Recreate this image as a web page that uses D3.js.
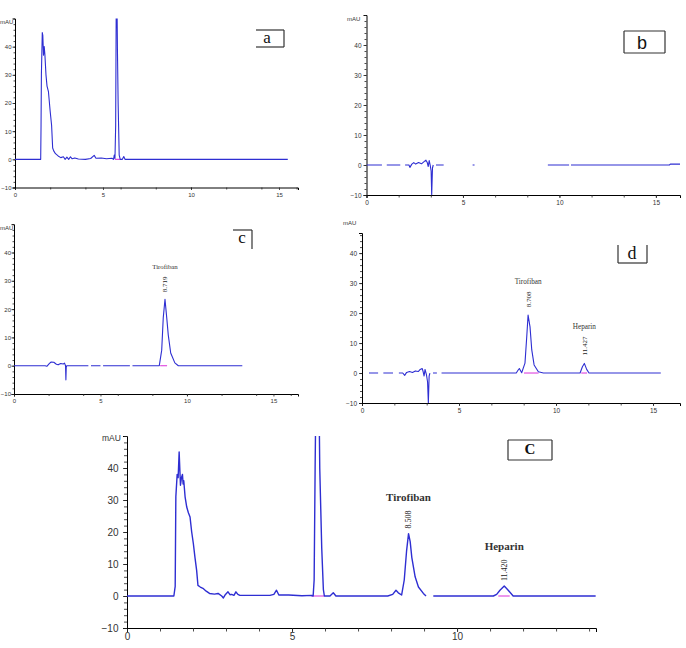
<!DOCTYPE html>
<html>
<head>
<meta charset="utf-8">
<script src="https://cdn.jsdelivr.net/npm/d3@7"></script>
<style>
  html, body { margin: 0; padding: 0; background: #fff; }
  svg { display: block; }
</style>
</head>
<body>
<svg id="chart" width="686" height="648"></svg>
<script>
// ---------------- DATA (time in min, signal in mAU; null = gap in trace) ----------------
const aTrace = [[0,0],[1.46,0],[1.48,12],[1.50,30],[1.55,45],[1.58,44],[1.62,37],[1.66,40],[1.70,37],[1.76,30],[1.82,26],[1.9,24],[2.0,17],[2.08,12],[2.14,4],[2.2,3],[2.3,2],[2.45,1.2],[2.6,0.6],[2.75,0.9],[2.85,0],[2.95,0.8],[3.05,0],[3.15,0.9],[3.25,0.2],[3.4,0.5],[3.6,0.1],[4.0,0],[4.3,0.3],[4.5,1.4],[4.6,0.4],[4.9,0.5],[5.2,0.2],[5.5,0.4],[5.6,0],[5.64,1.5],[5.68,0.3],[5.72,12],[5.75,53],[5.80,53],[5.82,39],[5.86,20],[5.92,1.5],[5.98,0],[6.1,0],[6.18,1],[6.25,0],[15.5,0]];
const bTrace = [[0,0],[0.8,0],[0.9,null],[1.05,0],[1.75,0],[1.85,null],[2.0,0],[2.2,0],[2.25,-0.8],[2.35,0.3],[2.45,0.8],[2.55,0.3],[2.7,0.8],[2.85,0.4],[3.0,1.2],[3.08,1.6],[3.15,0.8],[3.2,-0.5],[3.25,1.5],[3.3,0],[3.35,-2],[3.38,-10],[3.42,-1],[3.46,0],[3.5,null],[3.6,0],[4.0,0],[4.1,null],[5.5,0],[5.6,0],[5.7,null],[9.4,0],[10.5,0],[10.55,null],[10.6,0],[15.7,0],[15.75,0.3],[16.25,0.3]];
const cTrace = [[0,0],[1.8,0],[1.9,-0.2],[2.05,0.8],[2.15,1.3],[2.3,1.2],[2.45,0.5],[2.55,0.3],[2.7,0.8],[2.85,0.6],[2.92,0.9],[2.98,0],[3.0,-5],[3.02,-0.5],[3.05,0],[4.3,0],[4.35,null],[4.45,0],[5.0,0],[5.05,null],[5.15,0],[6.7,0],[6.75,null],[6.85,0],[8.4,0],[8.54,5.5],[8.63,17],[8.73,23.5],[8.83,17],[8.92,10.8],[9.06,4.5],[9.3,1],[9.5,0],[13.2,0]];
const dTrace = [[0.36,0],[0.83,0],[0.9,null],[1.1,0],[1.6,0],[1.7,null],[1.9,0],[2.1,0],[2.2,-0.8],[2.3,0.2],[2.45,0.5],[2.6,0.2],[2.75,0.7],[2.9,0.5],[3.0,1.2],[3.1,1.5],[3.15,0.5],[3.2,-1],[3.25,1.2],[3.32,-0.5],[3.38,-3],[3.42,-10],[3.46,-1],[3.5,0],[3.55,null],[3.66,0],[3.86,0],[3.9,null],[4.1,0],[7.95,0],[8.05,1],[8.11,1.5],[8.23,0.1],[8.4,3.3],[8.49,12],[8.56,19.3],[8.66,15.4],[8.75,7.7],[8.87,2.7],[9.09,0.4],[9.35,0],[11.24,0],[11.36,2.1],[11.46,3.2],[11.58,1.2],[11.7,0],[15.4,0]];
const eTrace = [[0,0],[1.42,0],[1.46,3],[1.48,31],[1.52,38],[1.55,37],[1.58,45],[1.62,34.6],[1.65,37],[1.68,38],[1.70,35],[1.72,36],[1.76,31],[1.81,27.8],[1.86,26],[1.91,24.7],[1.96,20],[2.01,16.4],[2.06,12],[2.11,8],[2.15,3.3],[2.22,2.8],[2.3,2.4],[2.4,1.5],[2.5,0.8],[2.65,0.6],[2.76,0.8],[2.87,0],[2.92,-0.6],[2.97,0.3],[3.06,1.3],[3.12,0.4],[3.17,0.5],[3.24,0.2],[3.3,1.3],[3.36,0.5],[3.42,0.2],[3.7,0.2],[4.33,0.2],[4.45,0.5],[4.53,1.8],[4.6,0.3],[4.9,0.3],[5.3,0.1],[5.6,0.2],[5.64,0],[5.67,5],[5.70,40],[5.72,60],[5.82,60],[5.84,40],[5.9,15],[5.95,2],[5.98,0],[6.15,0],[6.25,1],[6.33,0],[7.9,0],[8.05,0.5],[8.15,1.8],[8.22,1],[8.32,0.3],[8.4,5],[8.47,14],[8.53,19.5],[8.58,17],[8.63,12],[8.73,6],[8.83,2.8],[8.98,0.8],[9.06,0],[9.08,null],[9.28,0],[11.1,0],[11.2,0.5],[11.3,1.8],[11.43,3.1],[11.55,1.8],[11.7,0],[14.2,0]];

// integration baselines (start, end)
const aMarks = [[5.68, 5.98]];
const bMarks = [];
const cMarks = [[8.45, 8.85]];
const dMarks = [[8.35, 9.1], [11.3, 11.6]];
const eMarks = [[5.58, 5.98], [11.25, 11.6]];

// peak annotations
const cPeakNames = ["Tirofiban"], cPeakTimes = ["8.719"], cPeakRT = [8.73], cPeakH = [23.5];
const dPeakNames = ["Tirofiban", "Heparin"], dPeakTimes = ["8.708", "11.427"], dPeakRT = [8.56, 11.46], dPeakH = [19.3, 3.2];
const ePeakNames = ["Tirofiban", "Heparin"], ePeakTimes = ["8.508", "11.420"], ePeakRT = [8.53, 11.43], ePeakH = [19.5, 3.1];

// axis ticks
const xMajorTicks = [0, 5, 10, 15];
const eXMajorTicks = [0, 5, 10];
const yMajorTicks = [-10, 0, 10, 20, 30, 40];
const yUnit = "mAU";
const panelLetters = ["a", "b", "c", "d", "C"];

// ---------------- DRAWING ----------------
const svg = d3.select("#chart");
const traceColor = "#2e2ed2";
const markColor = "#e050e0";

const panels = [
  { trace: aTrace, marks: aMarks, xr: [15, 298], xMax: 16.08, yr: [187.5, 18.5], yMax: 50,
    xMinorStep: 2, xMajor: xMajorTicks, font: 6, xPad: 3, yPad: 1, tick: 2.5, unitPos: [0, 24], unitFont: 6,
    lw: 1.1, letter: panelLetters[0], box: { x: 256, y: 30, w: 28, h: 17, sides: "trb" }, letterPos: [267, 43], letterFont: 17, letterFam: "Liberation Serif" },
  { trace: bTrace, marks: bMarks, xr: [366.5, 680], xMax: 16.25, yr: [195, 15], yMax: 50,
    xMinorStep: 5/3, xMajor: xMajorTicks, font: 6.5, xPad: 2, yPad: 2, tick: 3, unitPos: [347, 21], unitFont: 6,
    lw: 1.1, letter: panelLetters[1], box: { x: 624, y: 31, w: 41, h: 22, sides: "ltrb" }, letterPos: [642, 49], letterFont: 18, letterFam: "Liberation Sans" },
  { trace: cTrace, marks: cMarks, xr: [14, 298], xMax: 16.42, yr: [394, 224.2], yMax: 50,
    xMinorStep: 2, xMajor: xMajorTicks, font: 6, xPad: 2, yPad: 0.5, tick: 2.5, unitPos: [0, 230], unitFont: 6,
    lw: 1.1, letter: panelLetters[2], box: { x: 233, y: 230, w: 19, h: 19, sides: "tr" }, letterPos: [242, 243], letterFont: 17, letterFam: "Liberation Serif",
    names: cPeakNames, times: cPeakTimes, rts: cPeakRT, hs: cPeakH, nameFont: 6.8, timeFont: 7, nameBold: false, gapTime: 7, gapName: 10 },
  { trace: dTrace, marks: dMarks, xr: [362, 680], xMax: 16.39, yr: [403, 233], yMax: 46.7,
    xMinorStep: 5/3, xMajor: xMajorTicks, font: 6.5, xPad: 2, yPad: 2, tick: 3, unitPos: [343, 225], unitFont: 6,
    lw: 1.1, letter: panelLetters[3], box: { x: 618, y: 245, w: 29, h: 18, sides: "lrb" }, letterPos: [632, 259], letterFont: 18, letterFam: "Liberation Serif",
    names: dPeakNames, times: dPeakTimes, rts: dPeakRT, hs: dPeakH, nameFont: 7.2, timeFont: 7, nameBold: false, gapTime: 8, gapName: 10 },
  { trace: eTrace, marks: eMarks, xr: [127, 596], xMax: 14.21, yr: [628, 436], yMax: 50,
    xMinorStep: 1, xMajor: eXMajorTicks, font: 10, xPad: 1, yPad: 4.5, tick: 4, unitPos: [102, 441], unitFont: 8.5,
    lw: 1.4, letter: panelLetters[4], box: { x: 508, y: 440, w: 44, h: 20, sides: "ltrb" }, letterPos: [530, 454], letterFont: 15, letterBold: true, letterFam: "Liberation Serif",
    names: ePeakNames, times: ePeakTimes, rts: ePeakRT, hs: ePeakH, nameFont: 11, timeFont: 8, nameBold: true, gapTime: 5, gapName: 13 }
];

panels.forEach((p, i) => {
  const g = svg.append("g");
  const x = d3.scaleLinear().domain([0, p.xMax]).range(p.xr);
  const y = d3.scaleLinear().domain([-10, p.yMax]).range(p.yr);

  // minor ticks
  const xMinor = d3.range(0, p.xMax + 1e-6, p.xMinorStep);
  const yMinor = d3.range(-10, p.yMax + 1e-6, 2);

  g.append("g").attr("transform", `translate(0,${p.yr[0]})`)
    .call(d3.axisBottom(x).tickValues(p.xMajor).tickSize(p.tick).tickPadding(p.xPad).tickFormat(d3.format("d")));
  g.append("g").attr("transform", `translate(0,${p.yr[0]})`)
    .call(d3.axisBottom(x).tickValues(xMinor).tickSize(p.tick - 0.5).tickFormat(""))
    .call(s => s.select(".domain").remove());
  g.append("g").attr("transform", `translate(${p.xr[0]},0)`)
    .call(d3.axisLeft(y).tickValues(yMajorTicks).tickSize(p.tick).tickPadding(p.yPad).tickFormat(d3.format("d")));
  g.append("g").attr("transform", `translate(${p.xr[0]},0)`)
    .call(d3.axisLeft(y).tickValues(yMinor).tickSize(p.tick - 1).tickFormat(""))
    .call(s => s.select(".domain").remove());

  g.selectAll(".domain").attr("stroke", "#000").attr("stroke-width", 1);
  g.selectAll(".tick line").attr("stroke", "#222").attr("stroke-width", 0.8);
  g.selectAll("text").attr("font-family", "Liberation Sans, Arial, sans-serif")
    .attr("font-size", p.font).attr("fill", "#333");

  // unit label
  g.append("text").attr("x", p.unitPos[0]).attr("y", p.unitPos[1])
    .attr("font-family", "Liberation Sans, Arial, sans-serif").attr("font-size", p.unitFont)
    .attr("fill", "#333").text(yUnit);

  // clip
  const cid = "clip" + i;
  svg.append("clipPath").attr("id", cid).append("rect")
    .attr("x", p.xr[0]).attr("y", p.yr[1]).attr("width", p.xr[1] - p.xr[0]).attr("height", p.yr[0] - p.yr[1]);

  const plot = g.append("g").attr("clip-path", `url(#${cid})`);

  // integration marks
  plot.selectAll(".mark").data(p.marks).join("line")
    .attr("x1", d => x(d[0])).attr("x2", d => x(d[1]))
    .attr("y1", y(0)).attr("y2", y(0))
    .attr("stroke", markColor).attr("stroke-width", 1.2);

  // trace
  const line = d3.line().defined(d => d[1] !== null).x(d => x(d[0])).y(d => y(d[1]));
  plot.append("path").datum(p.trace).attr("d", line)
    .attr("fill", "none").attr("stroke", traceColor).attr("stroke-width", p.lw)
    .attr("stroke-linejoin", "round");

  // peak annotations
  if (p.names) {
    p.names.forEach((nm, k) => {
      const px = x(p.rts[k]);
      const top = y(p.hs[k]) - p.gapTime;
      const tt = g.append("text")
        .attr("transform", `translate(${px + p.timeFont * 0.35},${top}) rotate(-90)`)
        .attr("font-family", "Liberation Serif, Times New Roman, serif")
        .attr("font-size", p.timeFont).attr("fill", "#222").text(p.times[k]);
      const len = tt.node().getComputedTextLength();
      g.append("text").attr("x", px).attr("y", top - len - p.gapName + p.nameFont * 0.35)
        .attr("text-anchor", "middle")
        .attr("font-family", "Liberation Serif, Times New Roman, serif")
        .attr("font-weight", p.nameBold ? "bold" : "normal")
        .attr("font-size", p.nameFont).attr("fill", "#333").text(nm);
    });
  }

  // panel letter box
  const b = p.box;
  const sides = {
    t: [b.x, b.y, b.x + b.w, b.y], r: [b.x + b.w, b.y, b.x + b.w, b.y + b.h],
    b: [b.x, b.y + b.h, b.x + b.w, b.y + b.h], l: [b.x, b.y, b.x, b.y + b.h]
  };
  b.sides.split("").forEach(s => {
    const c = sides[s];
    g.append("line").attr("x1", c[0]).attr("y1", c[1]).attr("x2", c[2]).attr("y2", c[3])
      .attr("stroke", "#333").attr("stroke-width", 1.2);
  });
  g.append("text").attr("x", p.letterPos[0]).attr("y", p.letterPos[1])
    .attr("text-anchor", "middle").attr("font-family", p.letterFam)
    .attr("font-weight", p.letterBold ? "bold" : "normal")
    .attr("font-size", p.letterFont).attr("fill", "#111").text(p.letter);
});
</script>
</body>
</html>
